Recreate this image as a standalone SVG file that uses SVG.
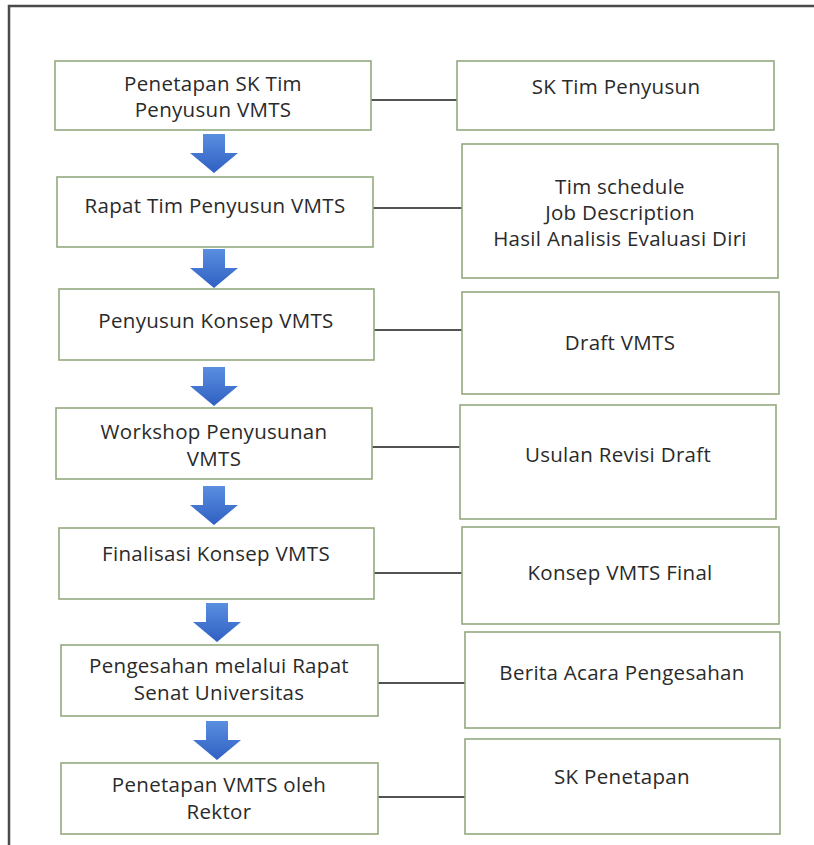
<svg xmlns="http://www.w3.org/2000/svg" width="814" height="845" viewBox="0 0 814 845">
<style>
.box{fill:#ffffff;stroke:#93a97f;stroke-width:1.6}
.t{font-family:"Open Sans","Liberation Sans",sans-serif;font-size:20.5px;letter-spacing:0.3px;fill:#2a2a2a;text-anchor:middle}
.c{stroke:#1a1a1a;stroke-width:1.6;fill:none}
.frame{stroke:#4a4a4a;stroke-width:2.5;fill:none}
</style>
<defs>
<linearGradient id="ag" x1="0" y1="0" x2="0" y2="1">
<stop offset="0" stop-color="#5a8ee0"/>
<stop offset="1" stop-color="#2f60c2"/>
</linearGradient>
<path id="arr" d="M-11,0 H11 V19 H24 L0,39 L-24,19 H-11 Z" fill="url(#ag)"/>
</defs>
<rect width="814" height="845" fill="#ffffff"/>
<path class="frame" d="M9,845 V6 H814"/>

<g id="connectors">
<line class="c" x1="371" y1="100" x2="457" y2="100"/>
<line class="c" x1="373" y1="208" x2="462" y2="208"/>
<line class="c" x1="374" y1="330" x2="462" y2="330"/>
<line class="c" x1="372" y1="447" x2="460" y2="447"/>
<line class="c" x1="374" y1="573" x2="462" y2="573"/>
<line class="c" x1="378" y1="683" x2="465" y2="683"/>
<line class="c" x1="378" y1="797" x2="465" y2="797"/>
<use href="#arr" x="214" y="134"/>
<use href="#arr" x="214" y="249"/>
<use href="#arr" x="214" y="367"/>
<use href="#arr" x="214" y="486"/>
<use href="#arr" x="217" y="603"/>
<use href="#arr" x="217" y="721"/>
</g>

<g id="n1"><rect class="box" x="55" y="61" width="316" height="69"/>
<text class="t" x="213" y="91">Penetapan SK Tim</text><text class="t" x="213" y="117">Penyusun VMTS</text></g>
<g id="r1"><rect class="box" x="457" y="61" width="317" height="69"/>
<text class="t" x="616" y="94">SK Tim Penyusun</text></g>

<g id="n2"><rect class="box" x="57" y="177" width="316" height="70"/>
<text class="t" x="215" y="213">Rapat Tim Penyusun VMTS</text></g>
<g id="r2"><rect class="box" x="462" y="144" width="316" height="134"/>
<text class="t" x="620" y="194">Tim schedule</text><text class="t" x="620" y="220">Job Description</text><text class="t" x="620" y="246">Hasil Analisis Evaluasi Diri</text></g>

<g id="n3"><rect class="box" x="59" y="289" width="315" height="71"/>
<text class="t" x="216" y="328">Penyusun Konsep VMTS</text></g>
<g id="r3"><rect class="box" x="462" y="292" width="317" height="102"/>
<text class="t" x="620" y="350">Draft VMTS</text></g>

<g id="n4"><rect class="box" x="56" y="408" width="316" height="71"/>
<text class="t" x="214" y="439">Workshop Penyusunan</text><text class="t" x="214" y="466">VMTS</text></g>
<g id="r4"><rect class="box" x="460" y="405" width="316" height="114"/>
<text class="t" x="618" y="462">Usulan Revisi Draft</text></g>

<g id="n5"><rect class="box" x="59" y="528" width="315" height="71"/>
<text class="t" x="216" y="561">Finalisasi Konsep VMTS</text></g>
<g id="r5"><rect class="box" x="462" y="527" width="317" height="97"/>
<text class="t" x="620" y="580">Konsep VMTS Final</text></g>

<g id="n6"><rect class="box" x="61" y="645" width="317" height="71"/>
<text class="t" x="219" y="673">Pengesahan melalui Rapat</text><text class="t" x="219" y="700">Senat Universitas</text></g>
<g id="r6"><rect class="box" x="465" y="632" width="315" height="96"/>
<text class="t" x="622" y="680">Berita Acara Pengesahan</text></g>

<g id="n7"><rect class="box" x="61" y="763" width="317" height="71"/>
<text class="t" x="219" y="792">Penetapan VMTS oleh</text><text class="t" x="219" y="819">Rektor</text></g>
<g id="r7"><rect class="box" x="465" y="739" width="315" height="95"/>
<text class="t" x="622" y="784">SK Penetapan</text></g>
</svg>
